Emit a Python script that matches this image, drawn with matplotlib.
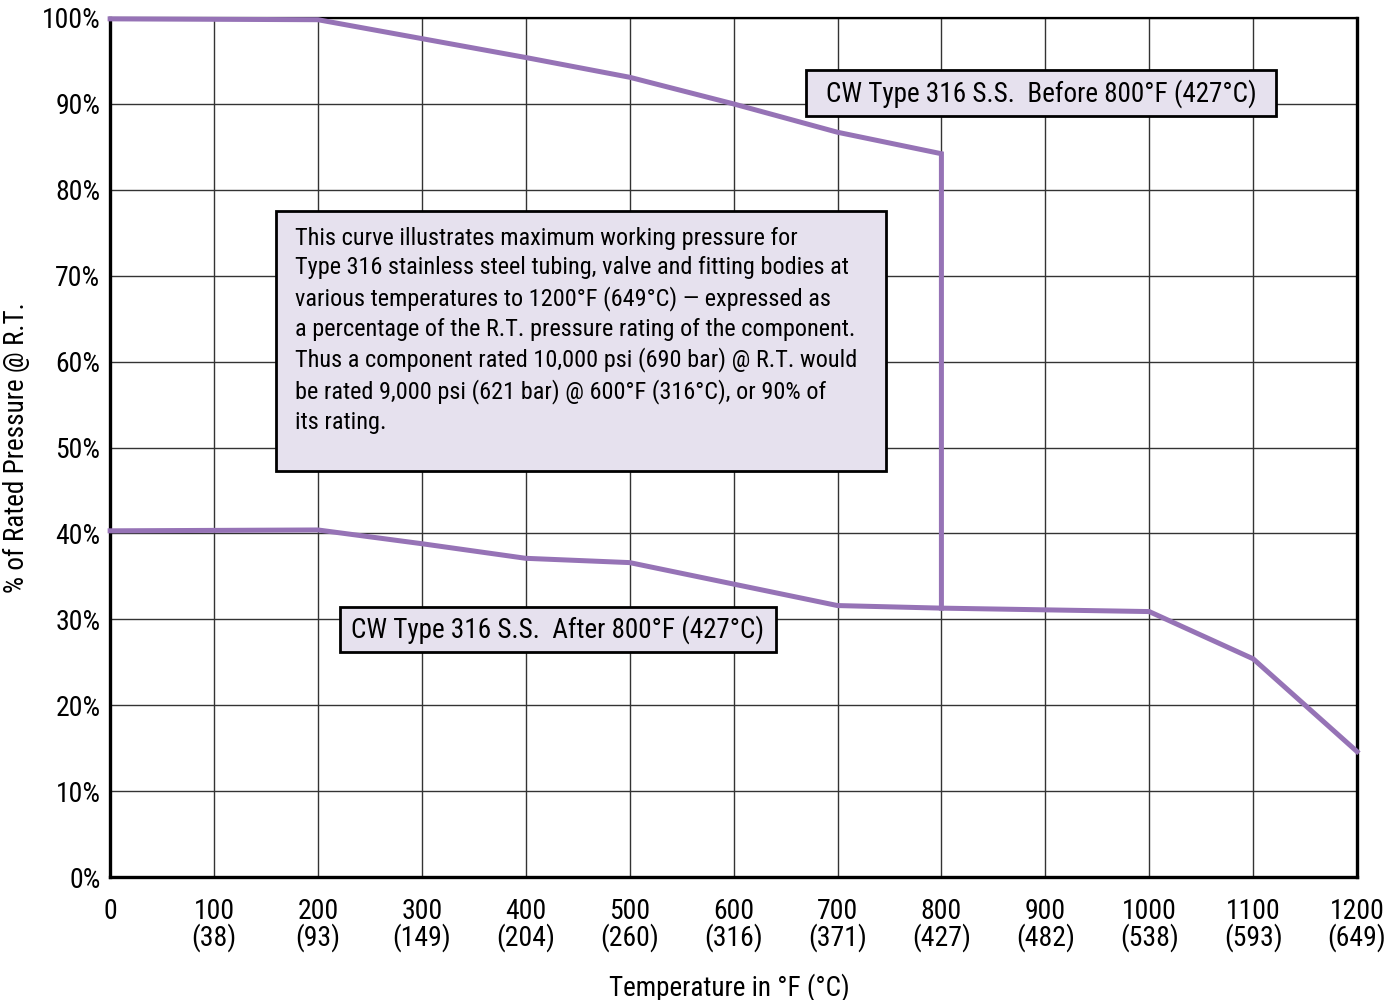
import matplotlib
matplotlib.use('Agg')
import matplotlib.pyplot as plt
from matplotlib import font_manager
from matplotlib.patches import Rectangle

# datos
temp_f = [0, 100, 200, 300, 400, 500, 600, 700, 800, 900, 1000, 1100, 1200]
temp_c = ['', '(38)', '(93)', '(149)', '(204)', '(260)', '(316)', '(371)',
          '(427)', '(482)', '(538)', '(593)', '(649)']
pct_ticks = [0, 10, 20, 30, 40, 50, 60, 70, 80, 90, 100]

antes_x = [0, 200, 400, 500, 600, 700, 800, 800]
antes_y = [99.9, 99.8, 95.4, 93.1, 90.0, 86.7, 84.2, 31.3]

despues_x = [0, 200, 300, 400, 500, 600, 700, 800, 900, 1000, 1100, 1200]
despues_y = [40.3, 40.4, 38.8, 37.1, 36.6, 34.1, 31.6, 31.3, 31.1, 30.9, 25.4, 14.6]

nota = ('This curve illustrates maximum working pressure for\n'
        'Type 316 stainless steel tubing, valve and fitting bodies at\n'
        'various temperatures to 1200°F (649°C) — expressed as\n'
        'a percentage of the R.T. pressure rating of the component.\n'
        'Thus a component rated 10,000 psi (690 bar) @ R.T. would\n'
        'be rated 9,000 psi (621 bar) @ 600°F (316°C), or 90% of\n'
        'its rating.')
label_antes = 'CW Type 316 S.S.  Before 800°F (427°C)'
label_despues = 'CW Type 316 S.S.  After 800°F (427°C)'

# buscar una fuente condensada
nombres = {f.name for f in font_manager.fontManager.ttflist}
fuente = 'DejaVu Sans'
for cand in ['Roboto Condensed', 'Liberation Sans Narrow', 'Archivo Narrow',
             'PT Sans Narrow', 'Pragati Narrow', 'Roboto']:
  if cand in nombres:
    fuente = cand
    break
plt.rcParams['font.family'] = [fuente, 'DejaVu Sans']

morado = '#9673b6'
lila = '#e6e1ee'

fig = plt.figure(figsize=(13.94, 10), dpi=100)
ax = fig.add_axes([0.079, 0.123, 0.8945, 0.859])

ax.set_xlim(0, 1200)
ax.set_ylim(0, 100)
ax.set_xticks(temp_f)
ax.set_xticklabels([f'{f}\n{c}' if c else f'{f}\n ' for f, c in zip(temp_f, temp_c)],
                   fontsize=20, linespacing=0.95)
ax.set_yticks(pct_ticks)
ax.set_yticklabels([f'{p}%' for p in pct_ticks], fontsize=20)
ax.tick_params(axis='both', length=0)
ax.tick_params(axis='x', pad=15)
ax.tick_params(axis='y', pad=7)

ax.grid(True, color='#333333', linewidth=1.0)
ax.set_axisbelow(True)
for lado in ['left', 'bottom', 'right']:
  ax.spines[lado].set_linewidth(2.4)
ax.spines['top'].set_linewidth(1.6)

ax.plot(antes_x, antes_y, color=morado, linewidth=3.6, clip_on=False, zorder=3,
        solid_joinstyle='miter')
ax.plot(despues_x, despues_y, color=morado, linewidth=3.6, clip_on=False, zorder=3,
        solid_joinstyle='miter')

# cajas de texto
ax.add_patch(Rectangle((160, 47.3), 587, 30.2, facecolor=lila, edgecolor='black',
                       linewidth=2.0, zorder=4))
ax.text(178, 75.7, nota, fontsize=17.5, linespacing=1.36, va='top', ha='left', zorder=5)

ax.add_patch(Rectangle((670, 88.6), 452, 5.3, facecolor=lila, edgecolor='black',
                       linewidth=2.0, zorder=4))
ax.text(896, 91.25, label_antes, fontsize=19.5, va='center', ha='center', zorder=5)

ax.add_patch(Rectangle((221, 26.2), 420, 5.2, facecolor=lila, edgecolor='black',
                       linewidth=2.0, zorder=4))
ax.text(431, 28.8, label_despues, fontsize=19.5, va='center', ha='center', zorder=5)

ax.set_xlabel('Temperature in °F (°C)', fontsize=19.5)
ax.xaxis.set_label_coords(0.497, -0.112)
ax.set_ylabel('% of Rated Pressure @ R.T.', fontsize=19.5)
ax.yaxis.set_label_coords(-0.064, 0.5)

plt.savefig('out.png', dpi=100)
